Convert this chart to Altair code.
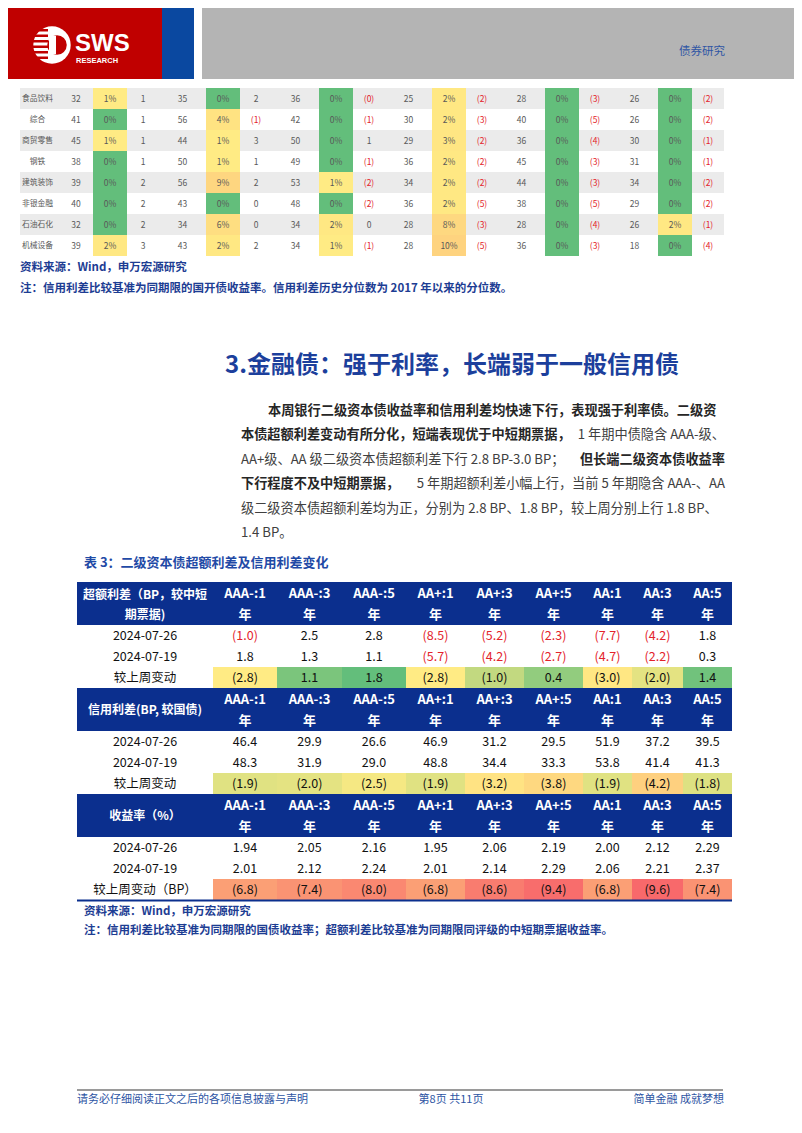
import math
import altair as alt
import pandas as pd
import numpy as np

# ---------------- data ----------------
# continuation of the industry table (top of page): six groups of (spread, percentile %, weekly change)
industries = ["食品饮料", "综合", "商贸零售", "钢铁", "建筑装饰", "非银金融", "石油石化", "机械设备"]
spread_vals = [
    [32, 35, 36, 25, 28, 26],
    [41, 56, 42, 30, 40, 26],
    [45, 44, 50, 29, 36, 30],
    [38, 50, 49, 36, 45, 31],
    [39, 56, 53, 34, 44, 34],
    [40, 43, 48, 36, 38, 29],
    [32, 34, 34, 28, 28, 26],
    [39, 43, 34, 28, 36, 18],
]
pct_vals = [
    [1, 0, 0, 2, 0, 0],
    [0, 4, 0, 2, 0, 0],
    [1, 1, 0, 3, 0, 0],
    [0, 1, 0, 2, 0, 0],
    [0, 9, 1, 2, 0, 0],
    [0, 0, 0, 2, 0, 0],
    [0, 6, 2, 8, 0, 2],
    [2, 2, 1, 10, 0, 0],
]
chg_vals = [
    [1, 2, -0.0, -2, -3, -2],
    [1, -1, -1, -3, -5, -2],
    [1, 3, 1, -2, -4, -1],
    [1, 1, -1, -2, -3, -1],
    [2, 2, -2, -2, -3, -2],
    [2, 0, -2, -5, -5, -2],
    [2, 0, 0, -3, -4, -1],
    [3, 2, -1, -5, -3, -4],
]

# table 3
tenors = ["AAA-:1", "AAA-:3", "AAA-:5", "AA+:1", "AA+:3", "AA+:5", "AA:1", "AA:3", "AA:5"]
section_titles = [["超额利差（BP，较中短", "期票据)"], ["信用利差(BP, 较国债)"], ["收益率（%）"]]
row_labels = [["2024-07-26", "2024-07-19", "较上周变动"],
              ["2024-07-26", "2024-07-19", "较上周变动"],
              ["2024-07-26", "2024-07-19", "较上周变动（BP）"]]
excess_0726 = [-1.0, 2.5, 2.8, -8.5, -5.2, -2.3, -7.7, -4.2, 1.8]
excess_0719 = [1.8, 1.3, 1.1, -5.7, -4.2, -2.7, -4.7, -2.2, 0.3]
excess_chg = [-2.8, 1.1, 1.8, -2.8, -1.0, 0.4, -3.0, -2.0, 1.4]
credit_0726 = [46.4, 29.9, 26.6, 46.9, 31.2, 29.5, 51.9, 37.2, 39.5]
credit_0719 = [48.3, 31.9, 29.0, 48.8, 34.4, 33.3, 53.8, 41.4, 41.3]
credit_chg = [-1.9, -2.0, -2.5, -1.9, -3.2, -3.8, -1.9, -4.2, -1.8]
yield_0726 = [1.94, 2.05, 2.16, 1.95, 2.06, 2.19, 2.00, 2.12, 2.29]
yield_0719 = [2.01, 2.12, 2.24, 2.01, 2.14, 2.29, 2.06, 2.21, 2.37]
yield_chg = [-6.8, -7.4, -8.0, -6.8, -8.6, -9.4, -6.8, -9.6, -7.4]

header_tag = "债券研究"
note_top_src = "资料来源：Wind，申万宏源研究"
note_top = "注：信用利差比较基准为同期限的国开债收益率。信用利差历史分位数为 2017 年以来的分位数。"
heading = "3.金融债：强于利率，长端弱于一般信用债"
para = [
    [("本周银行二级资本债收益率和信用利差均快速下行，表现强于利率债。二级资", "bold", "indent")],
    [("本债超额利差变动有所分化，短端表现优于中短期票据，", "bold", "left"), ("1 年期中债隐含 AAA-级、", "normal", "right")],
    [("AA+级、AA 级二级资本债超额利差下行 2.8 BP-3.0 BP；", "normal", "left"), ("但长端二级资本债收益率", "bold", "right")],
    [("下行程度不及中短期票据，", "bold", "left"), ("5 年期超额利差小幅上行，当前 5 年期隐含 AAA-、AA", "normal", "right")],
    [("级二级资本债超额利差均为正，分别为 2.8 BP、1.8 BP，较上周分别上行 1.8 BP、", "normal", "left")],
    [("1.4 BP。", "normal", "left")],
]
table_title = "表 3：二级资本债超额利差及信用利差变化"
note_bot_src = "资料来源：Wind，申万宏源研究"
note_bot = "注：信用利差比较基准为同期限的国债收益率；超额利差比较基准为同期限同评级的中短期票据收益率。"
footer = ["请务必仔细阅读正文之后的各项信息披露与声明", "第8页 共11页", "简单金融 成就梦想"]

# ---------------- styling / layout ----------------
W, H = 786, 1117
OX, OY = 8, 8
XS = alt.Scale(domain=[OX, OX + W], range=[0, W])
YS = alt.Scale(domain=[OY, OY + H], range=[0, H])
CJK = "Noto Sans CJK SC"
BLUE_T = "#1d3d93"
HDR_BLUE = "#0b2f8e"
RED_T = "#e3232b"


def X(f):
    return alt.X(f, type="quantitative", scale=XS, axis=None)


def Y(f):
    return alt.Y(f, type="quantitative", scale=YS, axis=None)


def rect_layer(df, color, **kw):
    return alt.Chart(df).mark_rect(**kw).encode(
        x=X("x0"), x2=alt.X2("x1"), y=Y("y0"), y2=alt.Y2("y1"), color=color)


def text_layer(df, **kw):
    return alt.Chart(df).mark_text(**kw).encode(x=X("x"), y=Y("y"), text=alt.Text("t:N"))


def neg(v):
    return v < 0 or (v == 0 and math.copysign(1, v) < 0)


layers = []

# ---- page header ----
hdr = pd.DataFrame({"x0": [0, 162, 202], "x1": [162, 194, 802], "y0": [0, 0, 0], "y1": [79, 79, 79],
                    "c": ["#c00000", "#0a48a0", "#b4b4b4"]})
layers.append(rect_layer(hdr, alt.Color("c:N", scale=None)))
# logo
layers.append(alt.Chart(pd.DataFrame({"x": [52], "y": [45]})).mark_point(
    filled=True, shape="circle", size=1400, color="white", opacity=1).encode(x=X("x"), y=Y("y")))
stripes = pd.DataFrame({"x0": [33] * 6, "x1": [48] * 6, "y0": [29 + 5.5 * i for i in range(6)],
                        "y1": [31.5 + 5.5 * i for i in range(6)]})
layers.append(rect_layer(stripes, alt.value("#c00000")))
layers.append(alt.Chart(pd.DataFrame({"x": [57], "y": [45]})).mark_point(
    filled=True, shape="circle", size=380, color="#c00000", opacity=1).encode(x=X("x"), y=Y("y")))
layers.append(rect_layer(pd.DataFrame({"x0": [49], "x1": [56], "y0": [36], "y1": [54]}), alt.value("white")))
layers.append(text_layer(pd.DataFrame({"x": [75], "y": [44], "t": ["SWS"]}), align="left", baseline="middle",
                         font="Liberation Sans", fontWeight="bold", fontSize=24, color="white"))
layers.append(text_layer(pd.DataFrame({"x": [76], "y": [61], "t": ["RESEARCH"]}), align="left", baseline="middle",
                         font="Liberation Sans", fontWeight="bold", fontSize=7.5, color="white"))
layers.append(text_layer(pd.DataFrame({"x": [725], "y": [52], "t": [header_tag]}), align="right", baseline="middle",
                         font=CJK, fontSize=11.5, color="#2f55a4"))

# ---- top industry table ----
col_w = [39, 34, 34, 32] + [47, 34, 32] * 5
edges = np.concatenate([[20], 20 + np.cumsum(col_w)])
centers = (edges[:-1] + edges[1:]) / 2
RY0, RH = 88, 21
stripe_rows = pd.DataFrame({"x0": [edges[0]] * 4, "x1": [edges[-1]] * 4,
                            "y0": [RY0 + RH * r for r in (0, 2, 4, 6)],
                            "y1": [RY0 + RH * (r + 1) for r in (0, 2, 4, 6)]})
layers.append(rect_layer(stripe_rows, alt.value("#ebebeb")))

pct_cells, txt_dark, txt_red, txt_name = [], [], [], []
for r, name in enumerate(industries):
    yc = RY0 + RH * r + RH / 2
    txt_name.append({"x": centers[0] - 2, "y": yc, "t": name})
    for g in range(6):
        c_s, c_p, c_c = 1 + 3 * g, 2 + 3 * g, 3 + 3 * g
        txt_dark.append({"x": centers[c_s], "y": yc, "t": str(spread_vals[r][g])})
        pv = pct_vals[r][g]
        pct_cells.append({"x0": edges[c_p], "x1": edges[c_p + 1], "y0": RY0 + RH * r,
                          "y1": RY0 + RH * (r + 1), "v": pv})
        txt_dark.append({"x": centers[c_p], "y": yc, "t": f"{pv}%"})
        cv = chg_vals[r][g]
        if neg(cv):
            txt_red.append({"x": centers[c_c], "y": yc, "t": f"({abs(int(cv))})"})
        else:
            txt_dark.append({"x": centers[c_c], "y": yc, "t": str(int(cv))})

layers.append(rect_layer(pd.DataFrame(pct_cells), alt.Color(
    "v:Q", legend=None, scale=alt.Scale(domain=[0, 1, 50], range=["#63be7b", "#ffeb84", "#f8696b"],
                                        interpolate="rgb"))))
layers.append(text_layer(pd.DataFrame(txt_name), align="center", baseline="middle", font=CJK, fontSize=7.8,
                         color="#595959"))
layers.append(text_layer(pd.DataFrame(txt_dark), align="center", baseline="middle", font=CJK, fontSize=8.5,
                         color="#595959"))
layers.append(text_layer(pd.DataFrame(txt_red), align="center", baseline="middle", font=CJK, fontSize=8.5,
                         color=RED_T))

# notes under top table
layers.append(text_layer(pd.DataFrame({"x": [20, 20], "y": [268, 289], "t": [note_top_src, note_top]}),
                         align="left", baseline="middle", font=CJK, fontWeight="bold", fontSize=11.5,
                         color=BLUE_T))

# ---- heading and paragraph ----
layers.append(text_layer(pd.DataFrame({"x": [452], "y": [366], "t": [heading]}), align="center",
                         baseline="middle", font=CJK, fontWeight="bold", fontSize=24, color="#1c3f9c"))
PL, PR, PY0, PDY = 241, 725, 411, 24.4
seg = {}
for i, line in enumerate(para):
    for text, wt, al in line:
        xpos = PR if al == "right" else (PL + 27 if al == "indent" else PL)
        key = (wt, "right" if al == "right" else "left")
        seg.setdefault(key, []).append({"x": xpos, "y": PY0 + PDY * i, "t": text})
for (wt, al), rows in seg.items():
    layers.append(text_layer(pd.DataFrame(rows), align=al, baseline="middle", font=CJK, fontSize=13.2,
                             fontWeight=wt, color="#262626" if wt == "bold" else "#404040"))

# ---- table 3 ----
layers.append(text_layer(pd.DataFrame({"x": [84], "y": [563], "t": [table_title]}), align="left",
                         baseline="middle", font=CJK, fontWeight="bold", fontSize=13, color="#1f4aa6"))
t3_w = [136, 64, 65, 64, 59, 59, 59, 49, 51, 49]
e3 = np.concatenate([[77], 77 + np.cumsum(t3_w)])
c3 = (e3[:-1] + e3[1:]) / 2
SEC0, SEC_H, HH, R3 = 582, 106, 43, 21
sections = [
    (excess_0726, excess_0719, excess_chg, 1),
    (credit_0726, credit_0719, credit_chg, 1),
    (yield_0726, yield_0719, yield_chg, 2),
]
all_chg = np.array(excess_chg + credit_chg + yield_chg)
hdr_rects, chg_cells, hdr_txt, hdr_lab, lab_txt, val_dark, val_red = [], [], [], [], [], [], []
for s, (a, b, ch, dec) in enumerate(sections):
    top = SEC0 + SEC_H * s
    hdr_rects.append({"x0": e3[0], "x1": e3[-1], "y0": top, "y1": top + HH})
    lines = section_titles[s]
    if len(lines) == 2:
        hdr_lab.append({"x": c3[0], "y": top + 13, "t": lines[0]})
        hdr_lab.append({"x": c3[0], "y": top + 33, "t": lines[1]})
    else:
        hdr_lab.append({"x": c3[0], "y": top + 22, "t": lines[0]})
    for j, tn in enumerate(tenors):
        hdr_txt.append({"x": c3[j + 1], "y": top + 12, "t": tn})
        hdr_txt.append({"x": c3[j + 1], "y": top + 33, "t": "年"})
    for k, vals in enumerate((a, b, ch)):
        yc = top + HH + R3 * k + R3 / 2
        lab_txt.append({"x": c3[0], "y": yc, "t": row_labels[s][k]})
        d = dec if k < 2 else 1
        for j, v in enumerate(vals):
            txt = f"{abs(v):.{d}f}"
            txt = f"({txt})" if v < 0 else txt
            rec = {"x": c3[j + 1], "y": yc, "t": txt}
            if k == 2:
                chg_cells.append({"x0": e3[j + 1], "x1": e3[j + 2], "y0": top + HH + R3 * 2,
                                  "y1": top + HH + R3 * 3, "v": v})
                val_dark.append(rec)
            elif s == 0 and v < 0:
                val_red.append(rec)
            else:
                val_dark.append(rec)

layers.append(rect_layer(pd.DataFrame(hdr_rects), alt.value(HDR_BLUE)))
layers.append(rect_layer(pd.DataFrame(chg_cells), alt.Color(
    "v:Q", legend=None,
    scale=alt.Scale(domain=[float(all_chg.min()), float(np.median(all_chg)), float(all_chg.max())],
                    range=["#f8696b", "#ffeb84", "#63be7b"], interpolate="rgb"))))
bottom = SEC0 + SEC_H * 3
layers.append(rect_layer(pd.DataFrame({"x0": [e3[0]], "x1": [e3[-1]], "y0": [bottom - 0.5], "y1": [bottom + 1.5]}),
                         alt.value(HDR_BLUE)))
layers.append(text_layer(pd.DataFrame(hdr_lab), align="center", baseline="middle", font=CJK, fontWeight="bold",
                         fontSize=12, color="white"))
layers.append(text_layer(pd.DataFrame(hdr_txt), align="center", baseline="middle", font=CJK, fontWeight="bold",
                         fontSize=13, color="white"))
layers.append(text_layer(pd.DataFrame(lab_txt), align="center", baseline="middle", font=CJK, fontSize=12.5,
                         color="#111111"))
layers.append(text_layer(pd.DataFrame(val_dark), align="center", baseline="middle", font=CJK, fontSize=12.5,
                         color="#111111"))
layers.append(text_layer(pd.DataFrame(val_red), align="center", baseline="middle", font=CJK, fontSize=12.5,
                         color=RED_T))

layers.append(text_layer(pd.DataFrame({"x": [84, 84], "y": [912, 931], "t": [note_bot_src, note_bot]}),
                         align="left", baseline="middle", font=CJK, fontWeight="bold", fontSize=11.5,
                         color=BLUE_T))

# ---- footer ----
layers.append(rect_layer(pd.DataFrame({"x0": [77], "x1": [723], "y0": [1089], "y1": [1091]}), alt.value("#9a9a9a")))
foot = pd.DataFrame({"x": [77, 451, 724], "y": [1100, 1100, 1100], "t": footer})
for al, idx in (("left", 0), ("center", 1), ("right", 2)):
    layers.append(text_layer(foot.iloc[[idx]], align=al, baseline="middle", font=CJK, fontSize=11,
                             color="#2d54a3"))

chart = alt.layer(*layers).resolve_scale(color="independent").properties(
    width=W, height=H, padding=0, autosize=alt.AutoSizeParams(type="none")
).configure_view(stroke=None)

chart.save("out.html", embed_options={"renderer": "svg", "actions": False})
